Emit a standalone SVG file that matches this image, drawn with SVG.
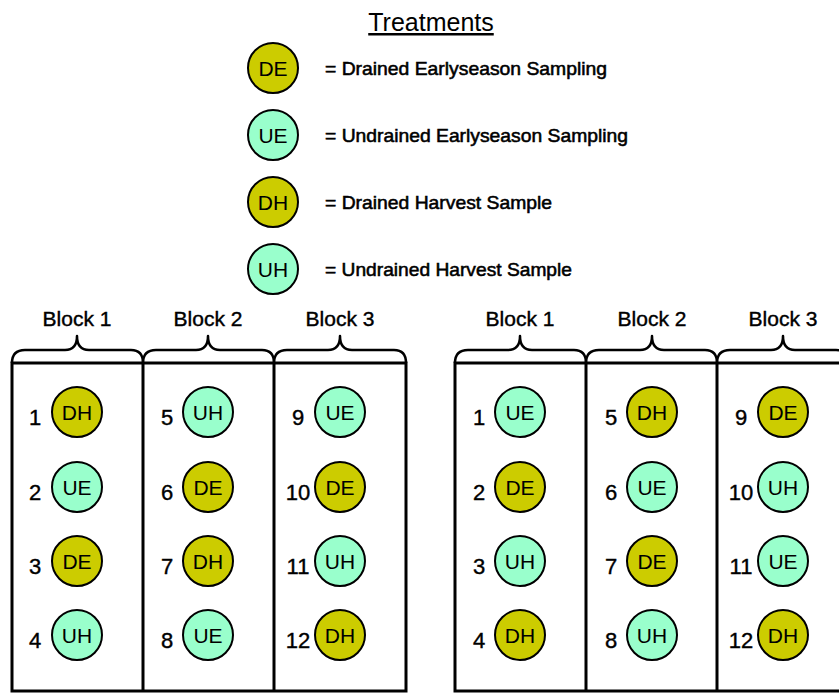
<svg xmlns="http://www.w3.org/2000/svg" width="839" height="693" viewBox="0 0 839 693">
<style>
text{font-family:"Liberation Sans",Arial,sans-serif;fill:#000}
.title{font-size:25px;text-anchor:middle;text-decoration:underline}
.leg{font-size:18.5px;stroke:#000;stroke-width:0.55}
.blk{font-size:21px;text-anchor:middle;stroke:#000;stroke-width:0.4}
.lbl{font-size:21px;text-anchor:middle}
.num{font-size:22px;text-anchor:middle;stroke:#000;stroke-width:0.4}
.d{fill:#CCCC00;stroke:#000;stroke-width:2}
.u{fill:#99FFCC;stroke:#000;stroke-width:2}
.box{fill:none;stroke:#000;stroke-width:3}
.brace{fill:none;stroke:#000;stroke-width:2.5;stroke-linejoin:round}
</style>
<rect width="839" height="693" fill="#fff"/>
<text class="title" x="431" y="31">Treatments</text>
<g id="legend-DE"><circle class="d" cx="273" cy="68" r="25"/><text class="lbl" x="273" y="75.5">DE</text><text class="leg" x="325" y="75" textLength="282" lengthAdjust="spacingAndGlyphs">= Drained Earlyseason Sampling</text></g>
<g id="legend-UE"><circle class="u" cx="273" cy="135" r="25"/><text class="lbl" x="273" y="142.5">UE</text><text class="leg" x="325" y="142" textLength="303" lengthAdjust="spacingAndGlyphs">= Undrained Earlyseason Sampling</text></g>
<g id="legend-DH"><circle class="d" cx="273" cy="202" r="25"/><text class="lbl" x="273" y="209.5">DH</text><text class="leg" x="325" y="209" textLength="227" lengthAdjust="spacingAndGlyphs">= Drained Harvest Sample</text></g>
<g id="legend-UH"><circle class="u" cx="273" cy="269" r="25"/><text class="lbl" x="273" y="276.5">UH</text><text class="leg" x="325" y="276" textLength="247" lengthAdjust="spacingAndGlyphs">= Undrained Harvest Sample</text></g>

<g id="connectors">
<path class="brace" d="M12,363 Q12,350 25,350 H65 Q77,350 77,336 Q77,350 89,350 H131 Q143,350 143,363"/>
<path class="brace" d="M143,363 Q143,350 156,350 H196 Q208,350 208,336 Q208,350 220,350 H262 Q274,350 274,363"/>
<path class="brace" d="M274,363 Q274,350 287,350 H328 Q340,350 340,336 Q340,350 352,350 H394 Q406,350 406,363"/>
<path class="brace" d="M455,363 Q455,350 468,350 H508 Q520,350 520,336 Q520,350 532,350 H574 Q586,350 586,363"/>
<path class="brace" d="M586,363 Q586,350 599,350 H640 Q652,350 652,336 Q652,350 664,350 H705 Q717,350 717,363"/>
<path class="brace" d="M717,363 Q717,350 730,350 H771 Q783,350 783,336 Q783,350 795,350 H836 Q848,350 848,363"/>
<rect class="box" x="12" y="363" width="394" height="328"/>
<line class="box" x1="143" y1="363" x2="143" y2="691"/>
<line class="box" x1="274" y1="363" x2="274" y2="691"/>
<rect class="box" x="455" y="363" width="394" height="328"/>
<line class="box" x1="586" y1="363" x2="586" y2="691"/>
<line class="box" x1="717" y1="363" x2="717" y2="691"/>
</g>

<g id="block-labels">
<text class="blk" x="77" y="326">Block 1</text>
<text class="blk" x="208" y="326">Block 2</text>
<text class="blk" x="340" y="326">Block 3</text>
<text class="blk" x="520" y="326">Block 1</text>
<text class="blk" x="652" y="326">Block 2</text>
<text class="blk" x="783" y="326">Block 3</text>
</g>

<g id="L1"><text class="num" x="35" y="425">1</text><circle class="d" cx="77" cy="412" r="25"/><text class="lbl" x="77" y="419.5">DH</text></g>
<g id="L2"><text class="num" x="35" y="500">2</text><circle class="u" cx="77" cy="487" r="25"/><text class="lbl" x="77" y="494.5">UE</text></g>
<g id="L3"><text class="num" x="35" y="574">3</text><circle class="d" cx="77" cy="561" r="25"/><text class="lbl" x="77" y="568.5">DE</text></g>
<g id="L4"><text class="num" x="35" y="648">4</text><circle class="u" cx="77" cy="635" r="25"/><text class="lbl" x="77" y="642.5">UH</text></g>
<g id="L5"><text class="num" x="167" y="425">5</text><circle class="u" cx="208" cy="412" r="25"/><text class="lbl" x="208" y="419.5">UH</text></g>
<g id="L6"><text class="num" x="167" y="500">6</text><circle class="d" cx="208" cy="487" r="25"/><text class="lbl" x="208" y="494.5">DE</text></g>
<g id="L7"><text class="num" x="167" y="574">7</text><circle class="d" cx="208" cy="561" r="25"/><text class="lbl" x="208" y="568.5">DH</text></g>
<g id="L8"><text class="num" x="167" y="648">8</text><circle class="u" cx="208" cy="635" r="25"/><text class="lbl" x="208" y="642.5">UE</text></g>
<g id="L9"><text class="num" x="298" y="425">9</text><circle class="u" cx="340" cy="412" r="25"/><text class="lbl" x="340" y="419.5">UE</text></g>
<g id="L10"><text class="num" x="298" y="500">10</text><circle class="d" cx="340" cy="487" r="25"/><text class="lbl" x="340" y="494.5">DE</text></g>
<g id="L11"><text class="num" x="298" y="574">11</text><circle class="u" cx="340" cy="561" r="25"/><text class="lbl" x="340" y="568.5">UH</text></g>
<g id="L12"><text class="num" x="298" y="648">12</text><circle class="d" cx="340" cy="635" r="25"/><text class="lbl" x="340" y="642.5">DH</text></g>

<g id="R1"><text class="num" x="479" y="425">1</text><circle class="u" cx="520" cy="412" r="25"/><text class="lbl" x="520" y="419.5">UE</text></g>
<g id="R2"><text class="num" x="479" y="500">2</text><circle class="d" cx="520" cy="487" r="25"/><text class="lbl" x="520" y="494.5">DE</text></g>
<g id="R3"><text class="num" x="479" y="574">3</text><circle class="u" cx="520" cy="561" r="25"/><text class="lbl" x="520" y="568.5">UH</text></g>
<g id="R4"><text class="num" x="479" y="648">4</text><circle class="d" cx="520" cy="635" r="25"/><text class="lbl" x="520" y="642.5">DH</text></g>
<g id="R5"><text class="num" x="611" y="425">5</text><circle class="d" cx="652" cy="412" r="25"/><text class="lbl" x="652" y="419.5">DH</text></g>
<g id="R6"><text class="num" x="611" y="500">6</text><circle class="u" cx="652" cy="487" r="25"/><text class="lbl" x="652" y="494.5">UE</text></g>
<g id="R7"><text class="num" x="611" y="574">7</text><circle class="d" cx="652" cy="561" r="25"/><text class="lbl" x="652" y="568.5">DE</text></g>
<g id="R8"><text class="num" x="611" y="648">8</text><circle class="u" cx="652" cy="635" r="25"/><text class="lbl" x="652" y="642.5">UH</text></g>
<g id="R9"><text class="num" x="741" y="425">9</text><circle class="d" cx="783" cy="412" r="25"/><text class="lbl" x="783" y="419.5">DE</text></g>
<g id="R10"><text class="num" x="741" y="500">10</text><circle class="u" cx="783" cy="487" r="25"/><text class="lbl" x="783" y="494.5">UH</text></g>
<g id="R11"><text class="num" x="741" y="574">11</text><circle class="u" cx="783" cy="561" r="25"/><text class="lbl" x="783" y="568.5">UE</text></g>
<g id="R12"><text class="num" x="741" y="648">12</text><circle class="d" cx="783" cy="635" r="25"/><text class="lbl" x="783" y="642.5">DH</text></g>
</svg>
